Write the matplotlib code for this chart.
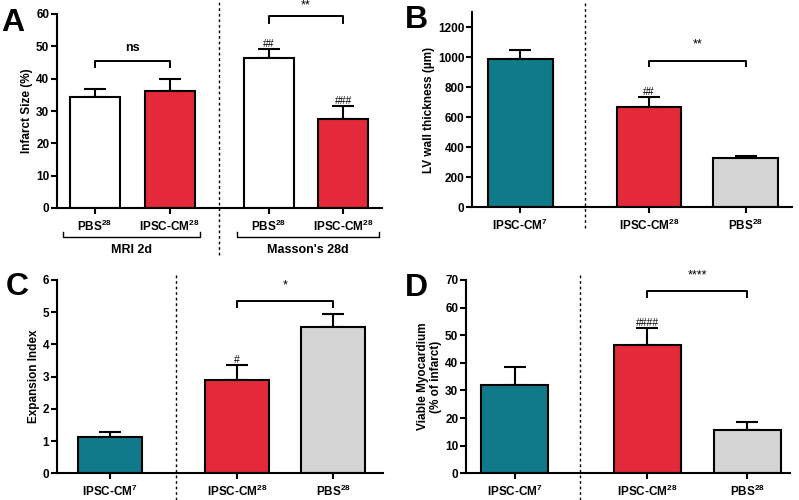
import matplotlib.pyplot as plt
import numpy as np

plt.rcParams['font.family'] = ['Liberation Sans', 'DejaVu Sans']
plt.rcParams['font.weight'] = 'bold'
plt.rcParams['axes.labelweight'] = 'bold'
plt.rcParams['mathtext.fontset'] = 'custom'
plt.rcParams['mathtext.rm'] = 'Liberation Sans'
plt.rcParams['mathtext.default'] = 'regular'

# colours
teal = '#0f7a89'
red = '#e3293a'
gray = '#d4d4d4'

# panel A data
a_labels = [r'PBS$^{\mathrm{28}}$', r'IPSC-CM$^{\mathrm{28}}$', r'PBS$^{\mathrm{28}}$', r'IPSC-CM$^{\mathrm{28}}$']
a_vals = [34.3, 36.3, 46.5, 27.4]
a_err = [2.5, 3.7, 2.7, 4.0]
a_colors = ['white', red, 'white', red]
a_hash = ['', '', '##', '###']
a_groups = ['MRI 2d', "Masson's 28d"]

# panels B, C, D share the groups
bcd_labels = [r'IPSC-CM$^{\mathrm{7}}$', r'IPSC-CM$^{\mathrm{28}}$', r'PBS$^{\mathrm{28}}$']
bcd_colors = [teal, red, gray]

b_vals = [990, 670, 330]
b_err = [58, 65, 10]
b_hash = ['', '##', '']

c_vals = [1.13, 2.9, 4.55]
c_err = [0.14, 0.45, 0.4]
c_hash = ['', '#', '']

d_vals = [32, 46.5, 15.5]
d_err = [6.6, 6.0, 3.0]
d_hash = ['', '####', '']

fig = plt.figure(figsize=(7.99, 5.0), dpi=100)


def style(ax):
    for s in ['top', 'right']:
        ax.spines[s].set_visible(False)
    for s in ['left', 'bottom']:
        ax.spines[s].set_linewidth(1.5)
    ax.tick_params(width=1.5, length=4, labelsize=8.5)
    ax.tick_params(axis='y', pad=1.5)
    for lab in ax.get_xticklabels() + ax.get_yticklabels():
        lab.set_fontweight('bold')


def bars(ax, x, vals, err, colors, hashes):
    ax.bar(x, vals, width=0.67, color=colors, edgecolor='black', linewidth=1.5, zorder=2)
    ax.errorbar(x, vals, yerr=[np.zeros(len(vals)), err], fmt='none', ecolor='black',
                elinewidth=1.5, capsize=8, capthick=1.5, zorder=1)
    for xi, v, e, h in zip(x, vals, err, hashes):
        if h:
            ax.text(xi, v + e, h, ha='center', va='bottom', fontsize=7.5, fontweight='normal')


def bracket(ax, x1, x2, y, leg, text, ty):
    ax.plot([x1, x1, x2, x2], [y - leg, y, y, y - leg], color='black', lw=1.4, clip_on=False)
    ax.text((x1 + x2) / 2, ty, text, ha='center', va='center', fontsize=9,
            fontweight='normal' if '*' in text else 'bold')


def vline(ax, x, lo, hi):
    ax.plot([x, x], [lo, hi], transform=ax.get_xaxis_transform(), color='black',
            ls=(0, (2, 2)), lw=1, clip_on=False)


# ---- A ----
axA = fig.add_axes([0.0713, 0.584, 0.4068, 0.388])
xa = np.array([0, 1, 2.33, 3.33])
bars(axA, xa, a_vals, a_err, a_colors, a_hash)
axA.set_xlim(-0.51, 3.85)
axA.set_ylim(0, 60)
axA.set_yticks(range(0, 61, 10))
axA.set_xticks(xa)
axA.set_xticklabels(a_labels)
axA.set_ylabel('Infarct Size (%)', fontsize=8.5, labelpad=2)
style(axA)
bracket(axA, xa[0], xa[1], 45.5, 1.9, 'ns', 49.5)
bracket(axA, xa[2], xa[3], 59.5, 2.2, '**', 62.5)
vline(axA, 1.66, -0.24, 1.07)
for (g0, g1), name in zip([(-0.43, 1.41), (1.906, 3.81)], a_groups):
    axA.plot([g0, g0, g1, g1], [-0.124, -0.15, -0.15, -0.124], transform=axA.get_xaxis_transform(),
             color='black', lw=1, clip_on=False)
    axA.text((g0 + g1) / 2, -0.216, name, transform=axA.get_xaxis_transform(), ha='center',
             va='center', fontsize=9)
fig.text(0.001, 0.984, 'A', fontsize=23, fontweight='bold', va='top')

# ---- B ----
xb = np.array([0, 1.33, 2.33])
axB = fig.add_axes([0.5907, 0.586, 0.4005, 0.39])
bars(axB, xb, b_vals, b_err, bcd_colors, b_hash)
axB.set_xlim(-0.50, 2.81)
axB.set_ylim(0, 1300)
axB.set_yticks(range(0, 1201, 200))
axB.set_xticks(xb)
axB.set_xticklabels(bcd_labels)
axB.set_ylabel('LV wall thickness (µm)', fontsize=8.5, labelpad=2)
style(axB)
bracket(axB, xb[1], xb[2], 975, 38, '**', 1085)
vline(axB, 0.67, -0.11, 1.05)
fig.text(0.507, 0.99, 'B', fontsize=23, fontweight='bold', va='top')

# ---- C ----
axC = fig.add_axes([0.0713, 0.0534, 0.408, 0.3866])
bars(axC, xb, c_vals, c_err, bcd_colors, c_hash)
axC.set_xlim(-0.55, 2.85)
axC.set_ylim(0, 6)
axC.set_xticks(xb)
axC.set_xticklabels(bcd_labels)
axC.set_ylabel('Expansion Index', fontsize=8.5, labelpad=2)
style(axC)
bracket(axC, xb[1], xb[2], 5.35, 0.2, '*', 5.82)
vline(axC, 0.69, -0.14, 1.036)
fig.text(0.0075, 0.456, 'C', fontsize=23, fontweight='bold', va='top')

# ---- D ----
axD = fig.add_axes([0.5832, 0.0534, 0.4055, 0.3866])
bars(axD, xb, d_vals, d_err, bcd_colors, d_hash)
axD.set_xlim(-0.49, 2.76)
axD.set_ylim(0, 70)
axD.set_yticks(range(0, 71, 10))
axD.set_xticks(xb)
axD.set_xticklabels(bcd_labels)
axD.set_ylabel('Viable Myocardium\n(% of infarct)', fontsize=8.5, labelpad=2)
style(axD)
bracket(axD, xb[1], xb[2], 66.1, 2.1, '****', 71.8)
vline(axD, 0.65, -0.14, 1.03)
fig.text(0.507, 0.454, 'D', fontsize=23, fontweight='bold', va='top')

fig.savefig('out.png', dpi=100)
